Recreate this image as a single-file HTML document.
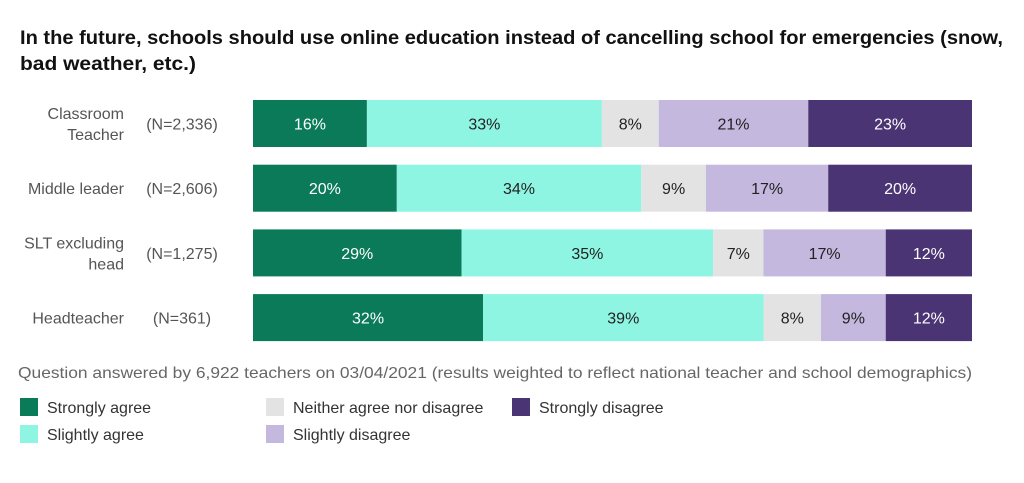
<!DOCTYPE html>
<html><head><meta charset="utf-8">
<style>
body{margin:0;width:1024px;height:478px;background:#fff;font-family:"Liberation Sans",sans-serif;overflow:hidden}
svg text{font-family:"Liberation Sans",sans-serif}
</style></head><body>
<svg id="chart" width="1024" height="478">
<text x="20" y="44" font-size="19" font-weight="bold" fill="#111" textLength="983" lengthAdjust="spacingAndGlyphs">In the future, schools should use online education instead of cancelling school for emergencies (snow,</text>
<text x="20" y="70" font-size="19" font-weight="bold" fill="#111" textLength="176" lengthAdjust="spacingAndGlyphs">bad weather, etc.)</text>
<text x="18" y="378" font-size="16" fill="#666" textLength="954" lengthAdjust="spacingAndGlyphs">Question answered by 6,922 teachers on 03/04/2021 (results weighted to reflect national teacher and school demographics)</text>
<g id="bars"></g>
<g id="legend"></g>
</svg>
<script>
const categories=[["Classroom","Teacher"],["Middle leader"],["SLT excluding","head"],["Headteacher"]];
const counts=["(N=2,336)","(N=2,606)","(N=1,275)","(N=361)"];
const seriesNames=["Strongly agree","Slightly agree","Neither agree nor disagree","Slightly disagree","Strongly disagree"];
const stronglyAgree=[16,20,29,32];
const slightlyAgree=[33,34,35,39];
const neither=[8,9,7,8];
const slightlyDisagree=[21,17,17,9];
const stronglyDisagree=[23,20,12,12];
const colors=["#0b7a58","#8ef5e2","#e3e3e3","#c4b8df","#4b3473"];
const textColors=["#fff","#222","#222","#222","#fff"];
const series=[stronglyAgree,slightlyAgree,neither,slightlyDisagree,stronglyDisagree];
const NS="http://www.w3.org/2000/svg";
const x0=253,x1=972,rowTop=100,rowStep=64.7,barH=47;
const g=document.getElementById('bars');
function mk(t,a,p){const e=document.createElementNS(NS,t);for(const k in a)e.setAttribute(k,a[k]);p.appendChild(e);return e;}
function xScale(v,total){return (x1-x0)*v/total;}
categories.forEach((cat,i)=>{
  const y=rowTop+i*rowStep;
  const total=series.reduce((s,a)=>s+a[i],0);
  let x=x0;
  series.forEach((arr,j)=>{
    const w=xScale(arr[i],total);
    const r=mk('rect',{x:x,y:y,width:w,height:barH,fill:colors[j]},g);
    
    
    const t=mk('text',{x:x+w/2,y:y+barH/2+6,'text-anchor':'middle','font-size':16,fill:textColors[j]},g);
    t.textContent=arr[i]+'%';
    
    
    x+=w;
  });
  const cy=y+barH/2;
  cat.forEach((line,k)=>{
    const t=mk('text',{x:124,y:cy+6+(k-(cat.length-1)/2)*21,'text-anchor':'end','font-size':16,fill:'#555'},g);
    t.textContent=line;
    
    
  });
  const n=mk('text',{x:182,y:cy+6,'text-anchor':'middle','font-size':16,fill:'#555'},g);
  n.textContent=counts[i];
  
  
});
const lg=document.getElementById('legend');
const lpos=[[20,398],[20,425],[266,398],[266,425],[512,398]];
seriesNames.forEach((name,j)=>{
  const [lx,ly]=lpos[j];
  const r=mk('rect',{x:lx,y:ly,width:18,height:18,fill:colors[j]},lg);
  
  
  const t=mk('text',{x:lx+27,y:ly+15,'font-size':16,fill:'#333'},lg);
  t.textContent=name;
  
  
});
</script>
</body></html>
